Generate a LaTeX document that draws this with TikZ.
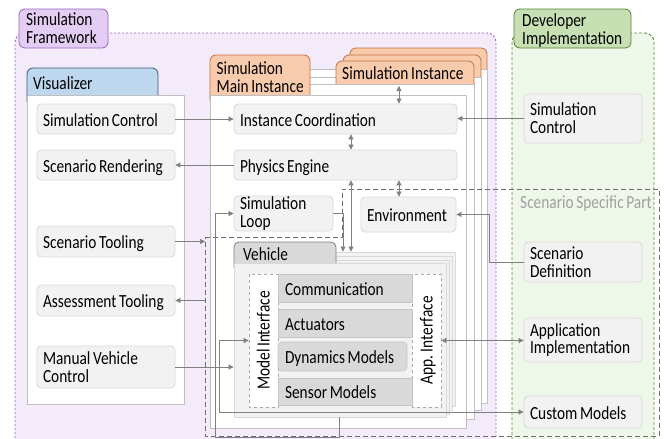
\documentclass[tikz,border=0pt]{standalone}
\usepackage{fontspec}
\setmainfont{Carlito}[FakeStretch=0.83,WordSpace=0.75]
\usetikzlibrary{arrows.meta}
\hyphenpenalty=10000
\definecolor{fwfill}{HTML}{F3EBFA}
\definecolor{fwline}{HTML}{9B5FCF}
\definecolor{fwtab}{HTML}{E3CDF3}
\definecolor{fwtabline}{HTML}{9A62C2}
\definecolor{devfill}{HTML}{EFF6EA}
\definecolor{devline}{HTML}{5A8A3C}
\definecolor{devtab}{HTML}{C6E0B4}
\definecolor{devtabline}{HTML}{548235}
\definecolor{visfill}{HTML}{BDD7EE}
\definecolor{visline}{HTML}{3A5778}
\definecolor{instfill}{HTML}{F8CBAD}
\definecolor{instline}{HTML}{C0713E}
\definecolor{boxfill}{HTML}{F2F2F2}
\definecolor{boxline}{HTML}{D9D9D9}
\definecolor{partfill}{HTML}{D9D9D9}
\definecolor{partline}{HTML}{C4C4C4}
\definecolor{panelline}{HTML}{BFBFBF}
\definecolor{connline}{HTML}{808080}
\definecolor{ssline}{HTML}{6E6E6E}
\definecolor{sstext}{HTML}{A0A0A0}
\begin{document}
\begin{tikzpicture}[x=1pt,y=-1pt,line join=round,
  font=\fontsize{18.5}{17.8}\selectfont,
  panel/.style={draw=panelline,fill=white,line width=.8pt},
  tabshape/.style={rounded corners=6pt,line width=.8pt},
  tablabel/.style={anchor=base west,inner sep=0pt,align=left},
  gbox/.style={draw=boxline,fill=boxfill,rounded corners=4pt,line width=.8pt,inner xsep=6pt,inner ysep=0pt,align=flush left},
  oneline/.style={text height=14pt,text depth=0pt},
  part/.style={draw=partline,fill=partfill,line width=.6pt,inner xsep=7pt,inner ysep=0pt,align=flush left,text width=120pt,minimum height=#1,text height=14pt,text depth=0pt},
  ifbox/.style={draw=black!35,dashed,line width=.7pt,fill=white,rotate=90,minimum width=133pt,minimum height=29pt,inner sep=0pt,text height=12pt,text depth=0pt},
  vpanel/.style={draw=boxline,fill=boxfill,line width=.8pt},
  conn/.style={draw=connline,line width=.7pt,-{Triangle[length=5pt,width=5pt]}},
  biconn/.style={conn,{Triangle[length=5pt,width=5pt]}-{Triangle[length=5pt,width=5pt]}}]
  \useasboundingbox (0,0) rectangle (670,439);
  \clip (0,0) rectangle (670,439);
  % framework and developer areas
  \filldraw[fill=fwfill,draw=fwline,line width=.9pt,dash pattern=on 2pt off 2pt,rounded corners=9pt] (15,450) -- (15,33) -- (496,33) -- (496,450);
  \filldraw[fill=devfill,draw=devline,line width=.9pt,dash pattern=on 3pt off 2pt,rounded corners=9pt] (512,450) -- (512,33) -- (654,33) -- (654,450);
  \draw[fill=fwtab,draw=fwtabline,line width=.8pt,rounded corners=6pt] (19,9) rectangle (108,48);
  \node[tablabel] (fwlabel) at (26,43.3) {Simulation\\Framework};
  \draw[fill=devtab,draw=devtabline,line width=.8pt,rounded corners=6pt] (514,9) rectangle (631,48);
  \node[tablabel] (devlabel) at (522,44) {Developer\\Implementation};
  % visualizer
  \draw[tabshape,fill=visfill,draw=visline] (27,102) -- (27,68) -- (158,68) -- (158,102);
  \node[tablabel] (vislabel) at (33,89) {Visualizer};
  \draw[panel] (27,95) rectangle (184,404);
  \node[gbox,oneline,text width=126pt,minimum height=30pt] (vsimctrl) at (106,119) {Simulation Control};
  \node[gbox,oneline,text width=126pt,minimum height=30pt] (vrender) at (106,165) {Scenario Rendering};
  \node[gbox,oneline,text width=126pt,minimum height=31pt] (vtool) at (106,241.5) {Scenario Tooling};
  \node[gbox,oneline,text width=126pt,minimum height=31pt] (vassess) at (106,300.5) {Assessment Tooling};
  \node[gbox,text width=126pt,minimum height=42pt] (vmanual) at (106,367) {Manual Vehicle\\Control};
  % simulation instances
  \draw[tabshape,fill=instfill,draw=instline] (350,75) -- (350,48) -- (487,48) -- (487,75);
  \draw[panel] (234,69) rectangle (487,403);
  \draw[tabshape,fill=instfill,draw=instline] (343,82) -- (343,55) -- (481,55) -- (481,82);
  \draw[panel] (226,77) rectangle (481,410);
  \draw[tabshape,fill=instfill,draw=instline] (336,90) -- (336,61) -- (474,61) -- (474,90);
  \node[tablabel] (instlabel) at (342,79) {Simulation Instance};
  \draw[panel] (218,84) rectangle (474,419);
  \draw[tabshape,fill=instfill,draw=instline] (210,100) -- (210,55) -- (310,55) -- (310,100);
  \node[tablabel] (mainlabel) at (216.5,92.7) {Simulation\\Main Instance};
  \draw[panel] (210,95) rectangle (466,428);
  \node[gbox,oneline,text width=211pt,minimum height=30pt] (coord) at (345.5,119) {Instance Coordination};
  \node[gbox,oneline,text width=211pt,minimum height=30pt] (physics) at (345.5,165) {Physics Engine};
  \node[gbox,text width=87pt,minimum height=35pt] (simloop) at (283.5,213.5) {Simulation\\Loop};
  \node[gbox,oneline,text width=83pt,minimum height=35pt] (env) at (408.5,214.5) {Environment};
  % vehicle
  \node[vpanel,minimum width=212pt,minimum height=154pt,inner sep=0pt] (vehback) at (349,329) {};
  \draw[vpanel] (240,256) rectangle (452,410);
  \draw[vpanel] (237,260) rectangle (449,414);
  \draw[tabshape,rounded corners=5pt,fill=partfill,draw=black!50] (234,268) -- (234,242) -- (336,242) -- (336,268);
  \node[tablabel] (vehlabel) at (243,260) {Vehicle};
  \node[vpanel,minimum width=212pt,minimum height=154pt,inner sep=0pt] (vehicle) at (340,340) {};
  \node[ifbox] (modelif) at (263.5,340.5) {Model Interface};
  \node[ifbox] (appif) at (426.5,340.5) {App. Interface};
  \node[part=28pt] (comm) at (345,288) {Communication};
  \node[part=28pt] (act) at (345,323) {Actuators};
  \node[part=29pt,text width=115pt,rounded corners=4pt] (dyn) at (342.5,356.5) {Dynamics Models};
  \node[part=27pt] (sensor) at (345,391.5) {Sensor Models};
  % developer implementation
  \node[gbox,text width=106pt,minimum height=49pt] (dsimctrl) at (583,118.5) {Simulation\\Control};
  \node[gbox,text width=106pt,minimum height=40pt] (scendef) at (583,262) {Scenario\\Definition};
  \node[gbox,text width=106pt,minimum height=44pt] (appimpl) at (583,340) {Application\\Implementation};
  \node[gbox,oneline,text width=106pt,minimum height=32pt] (custom) at (583,412) {Custom Models};
  % scenario specific part
  \draw[draw=ssline,line width=.9pt,dash pattern=on 5pt off 3pt] (205,237) coordinate (sspcorner) -- (342,237) -- (342,189) -- (659,189) -- (659,436) -- (205,436) -- cycle;
  \node[anchor=base west,text=sstext,inner sep=0pt] (ssplabel) at (520,208) {Scenario Specific Part};
  % connectors
  \coordinate (colA) at (399,0); \coordinate (colB) at (351,0); \coordinate (colC) at (343,0); \coordinate (colD) at (489,0);
  \coordinate (colE) at (219,0); \coordinate (colF) at (339,0); \coordinate (loopfoot) at (215,437); \coordinate (instfoot) at (399,86);
  \draw[conn] (vsimctrl.east) -- (coord.west);
  \draw[conn] (physics.west) -- (vrender.east);
  \draw[conn] (dsimctrl.west) -- (dsimctrl.west -| coord.east);
  \draw[biconn] (instfoot) -- (coord.north -| instfoot);
  \draw[biconn] (coord.south -| colB) -- (physics.north -| colB);
  \draw[biconn] (physics.south -| colA) -- (env.north -| colA);
  \draw[biconn] (physics.south -| colB) -- (vehback.north -| colB);
  \draw[conn] (simloop.east) -| (vehback.north -| colC);
  \draw[conn] (scendef.west) -| (colD |- env.east) -- (env.east);
  \draw[biconn] (appif.south) -- (appif.south -| appimpl.west);
  \draw[conn] (vtool.east) -- (vtool.east -| sspcorner);
  \draw[conn] (vassess.east -| sspcorner) -- (vassess.east);
  \draw[conn] (vmanual.east) -- (vmanual.east -| vehicle.west);
  \draw[biconn] (modelif.north) -- (modelif.north -| colE) |- (custom.west);
  \draw[conn] (vehicle.south -| colF) |- (loopfoot) |- (simloop.west);
\end{tikzpicture}
\end{document}
